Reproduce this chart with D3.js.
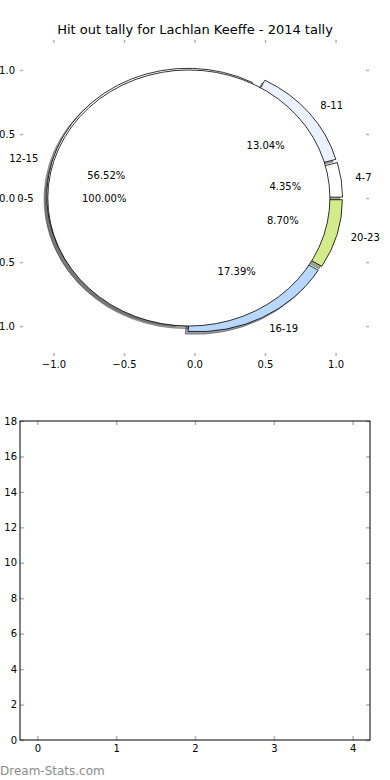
<!DOCTYPE html>
<html>
<head>
<meta charset="utf-8">
<script src="https://cdn.jsdelivr.net/npm/d3@7"></script>
<style>
  body { margin: 0; background: #fff; }
  text { font-family: "DejaVu Sans", sans-serif; fill: #000; }
  .tick line { stroke: #b5b5b5; stroke-width: 1.5; }
</style>
</head>
<body>
<div id="chart"></div>
<script>
// pie data (two pies drawn over each other, as in the original)
var title = "Hit out tally for Lachlan Keeffe - 2014 tally";
var ringLabels = ["4-7", "8-11", "12-15", "16-19", "20-23"];
var ringCounts = [1, 3, 13, 4, 2];
var ringColors = ["#ffffff", "#ebf2fe", "#ffffff", "#b8d7fb", "#d3eb8b"];
var ringExplode = 0.05;
var coreLabels = ["0-5"];
var coreCounts = [1];
var coreColors = ["#ffffff"];
var coreExplode = 0.04;
var pieTicks = [-1.0, -0.5, 0.0, 0.5, 1.0];

// empty lower chart
var barXTicks = [0, 1, 2, 3, 4];
var barYTicks = [0, 2, 4, 6, 8, 10, 12, 14, 16, 18];

var svg = d3.select("#chart").append("svg")
  .attr("width", 390)
  .attr("height", 780);

svg.append("text")
  .attr("x", 195).attr("y", 34)
  .attr("text-anchor", "middle")
  .style("font-size", "13px")
  .text(title);

// ---- pie axes ----
var px = d3.scaleLinear().domain([-1.237, 1.237]).range([20, 369]);
var py = d3.scaleLinear().domain([-1.234, 1.234]).range([356, 40]);
var fmt = d3.format(".2f");

var pieAxes = svg.append("g");
pieAxes.append("g").attr("transform", "translate(0,356)")
  .call(d3.axisBottom(px).tickValues(pieTicks).tickSizeInner(-3).tickSizeOuter(0).tickPadding(5).tickFormat(d3.format(".1f")));
pieAxes.append("g").attr("transform", "translate(0,40)")
  .call(d3.axisTop(px).tickValues(pieTicks).tickSizeInner(-3).tickSizeOuter(0).tickFormat(""));
pieAxes.append("g").attr("transform", "translate(20,0)")
  .call(d3.axisLeft(py).tickValues(pieTicks).tickSizeInner(-3).tickSizeOuter(0).tickPadding(5).tickFormat(d3.format(".1f")));
pieAxes.append("g").attr("transform", "translate(369,0)")
  .call(d3.axisRight(py).tickValues(pieTicks).tickSizeInner(-3).tickSizeOuter(0).tickFormat(""));
pieAxes.selectAll(".domain").remove();
pieAxes.selectAll(".tick text").style("font-size", "10px").attr("fill", "#000");

// unit circle space, stretched to the axes scales
var unit = svg.append("g")
  .attr("transform", "translate(" + px(0) + "," + py(0) + ") scale(" + (px(1) - px(0)) + "," + (py(0) - py(1)) + ")");

// matplotlib style: start at 3 o'clock, counter-clockwise
var pie = d3.pie().sort(null).startAngle(Math.PI / 2).endAngle(Math.PI / 2 - 2 * Math.PI);
var arc = d3.arc().innerRadius(0).outerRadius(1);

function shade(c) {
  var r = d3.rgb(c);
  return d3.rgb(r.r * 0.3, r.g * 0.3, r.b * 0.3).toString();
}

function buildPie(labels, counts, colors, explode) {
  var total = d3.sum(counts);
  return pie(counts).map(function(d, i) {
    var mid = (d.startAngle + d.endAngle) / 2;
    return {
      arc: d, label: labels[i], color: colors[i],
      pct: fmt(counts[i] / total * 100) + "%",
      dx: explode * Math.sin(mid), dy: -explode * Math.cos(mid),
      mid: mid
    };
  });
}

var ring = buildPie(ringLabels, ringCounts, ringColors, ringExplode);
var core = buildPie(coreLabels, coreCounts, coreColors, coreExplode);
var all = ring.concat(core);

// shadows sit under every wedge
unit.selectAll(".shadow").data(all).enter().append("path")
  .attr("class", "shadow")
  .attr("d", function(d) { return arc(d.arc); })
  .attr("transform", function(d) { return "translate(" + (d.dx - 0.02) + "," + (d.dy + 0.02) + ")"; })
  .attr("fill", function(d) { return shade(d.color); })
  .attr("stroke", function(d) { return shade(d.color); })
  .attr("fill-opacity", 0.5)
  .attr("stroke-opacity", 0.5)
  .attr("vector-effect", "non-scaling-stroke")
  .attr("stroke-width", 1);

unit.selectAll(".wedge").data(all).enter().append("path")
  .attr("class", "wedge")
  .attr("d", function(d) { return arc(d.arc); })
  .attr("transform", function(d) { return "translate(" + d.dx + "," + d.dy + ")"; })
  .attr("fill", function(d) { return d.color; })
  .attr("stroke", "#000")
  .attr("stroke-width", 0.8)
  .attr("vector-effect", "non-scaling-stroke");

// labels: outside at 1.1, percentages at 0.6
var labelLayer = svg.append("g").style("font-size", "10px");
all.forEach(function(d) {
  var cx = d.dx, cy = -d.dy;
  var ux = Math.sin(d.mid), uy = Math.cos(d.mid);
  var lx = cx + 1.1 * ux, ly = cy + 1.1 * uy;
  labelLayer.append("text")
    .attr("x", px(lx)).attr("y", py(ly))
    .attr("dy", "0.35em")
    .attr("text-anchor", lx > 0 ? "start" : "end")
    .text(d.label);
  labelLayer.append("text")
    .attr("x", px(cx + 0.6 * ux)).attr("y", py(cy + 0.6 * uy))
    .attr("dy", "0.35em")
    .attr("text-anchor", "middle")
    .text(d.pct);
});

// ---- lower (empty) axes ----
var bLeft = 20, bRight = 370, bTop = 421, bBottom = 740;
var bx = d3.scaleLinear().domain([-0.22, 4.22]).range([bLeft, bRight]);
var by = d3.scaleLinear().domain([0, 18]).range([bBottom, bTop]);

var lower = svg.append("g");
lower.append("g").attr("transform", "translate(0," + bBottom + ")")
  .call(d3.axisBottom(bx).tickValues(barXTicks).tickSizeInner(-4).tickSizeOuter(0).tickPadding(5).tickFormat(d3.format("d")));
lower.append("g").attr("transform", "translate(0," + bTop + ")")
  .call(d3.axisTop(bx).tickValues(barXTicks).tickSizeInner(-4).tickSizeOuter(0).tickFormat(""));
lower.append("g").attr("transform", "translate(" + bLeft + ",0)")
  .call(d3.axisLeft(by).tickValues(barYTicks).tickSizeInner(-4).tickSizeOuter(0).tickPadding(3).tickFormat(d3.format("d")));
lower.append("g").attr("transform", "translate(" + bRight + ",0)")
  .call(d3.axisRight(by).tickValues(barYTicks).tickSizeInner(-4).tickSizeOuter(0).tickFormat(""));
lower.selectAll(".domain").remove();
lower.selectAll(".tick text").style("font-size", "10px").attr("fill", "#000");

lower.append("rect")
  .attr("x", bLeft).attr("y", bTop)
  .attr("width", bRight - bLeft).attr("height", bBottom - bTop)
  .attr("fill", "none").attr("stroke", "#000").attr("stroke-width", 1);

svg.append("text")
  .attr("x", 0).attr("y", 775)
  .style("font-size", "12px")
  .style("fill", "#8c8c8c")
  .text("Dream-Stats.com");
</script>
</body>
</html>
